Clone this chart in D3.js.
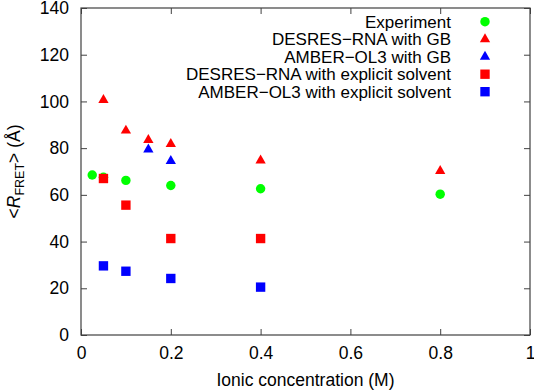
<!DOCTYPE html>
<html>
<head>
<meta charset="utf-8">
<script src="https://cdn.jsdelivr.net/npm/d3@7.9.0/dist/d3.min.js"></script>
<style>
  body { margin: 0; background: #fff; }
  text { font-family: "Liberation Sans", Arial, sans-serif; fill: #000; }
</style>
</head>
<body>
<div id="chart"></div>
<script>
// ─── DATA ────────────────────────────────────────────────────────────────────
const experimentX = [0.025, 0.05, 0.1, 0.2, 0.4, 0.8];
const experimentY = [68.5, 67.5, 66.2, 64.0, 62.6, 60.3];

const desresGbX = [0.05, 0.1, 0.15, 0.2, 0.4, 0.8];
const desresGbY = [100.6, 87.5, 83.5, 81.8, 74.7, 70.2];

const amberGbX = [0.15, 0.2];
const amberGbY = [79.4, 74.5];

const desresExplX = [0.05, 0.1, 0.2, 0.4];
const desresExplY = [67.0, 55.6, 41.3, 41.3];

const amberExplX = [0.05, 0.1, 0.2, 0.4];
const amberExplY = [29.6, 27.3, 24.2, 20.5];

const xTicks = [0, 0.2, 0.4, 0.6, 0.8, 1];
const yTicks = [0, 20, 40, 60, 80, 100, 120, 140];

const series = [
  { name: 'Experiment',                         xs: experimentX,  ys: experimentY,  shape: 'circle',   color: '#00ff00' },
  { name: 'DESRES\u2212RNA with GB',             xs: desresGbX,    ys: desresGbY,    shape: 'triangle', color: '#ff0000' },
  { name: 'AMBER\u2212OL3 with GB',              xs: amberGbX,     ys: amberGbY,     shape: 'triangle', color: '#0000ff' },
  { name: 'DESRES\u2212RNA with explicit solvent', xs: desresExplX, ys: desresExplY,  shape: 'square',   color: '#ff0000' },
  { name: 'AMBER\u2212OL3 with explicit solvent',  xs: amberExplX,  ys: amberExplY,   shape: 'square',   color: '#0000ff' }
];

// ─── SVG ─────────────────────────────────────────────────────────────────────
const W = 534, H = 390;
const margin = { top: 8, right: 4, bottom: 55, left: 81 };
const width  = W - margin.left - margin.right;
const height = H - margin.top - margin.bottom;

const svg = d3.select('#chart').append('svg')
  .attr('width', W).attr('height', H);

const g = svg.append('g')
  .attr('transform', `translate(${margin.left},${margin.top})`);

const x = d3.scaleLinear().domain([0, 1]).range([0, width]);
const y = d3.scaleLinear().domain([0, 140]).range([height, 0]);

const axisColor = '#404040';
const fontSize = 17.5;

// inward ticks on all four sides (gnuplot mirror style)
function styleAxis(sel) {
  sel.select('.domain').remove();
  sel.selectAll('.tick line').attr('stroke', axisColor);
  sel.selectAll('.tick text')
    .style('font-size', fontSize + 'px')
    .style('font-family', '"Liberation Sans", Arial, sans-serif')
    .attr('fill', '#000');
}

g.append('g')
    .attr('transform', `translate(0,${height})`)
    .call(d3.axisBottom(x).tickValues(xTicks).tickFormat(d3.format('')).tickSizeInner(-6).tickPadding(12))
    .call(styleAxis);

g.append('g')
    .call(d3.axisTop(x).tickValues(xTicks).tickFormat('').tickSizeInner(-6))
    .call(styleAxis);

g.append('g')
    .call(d3.axisLeft(y).tickValues(yTicks).tickFormat(d3.format('')).tickSizeInner(-6).tickPadding(12))
    .call(styleAxis);

g.append('g')
    .attr('transform', `translate(${width},0)`)
    .call(d3.axisRight(y).tickValues(yTicks).tickFormat('').tickSizeInner(-6))
    .call(styleAxis);

// frame
g.append('rect')
  .attr('width', width).attr('height', height)
  .attr('fill', 'none')
  .attr('stroke', axisColor)
  .attr('stroke-width', 1.2);

// axis titles
svg.append('text')
  .attr('x', margin.left + width / 2)
  .attr('y', 386)
  .attr('text-anchor', 'middle')
  .style('font-size', fontSize + 'px')
  .text('Ionic concentration (M)');

const yTitle = svg.append('text')
  .attr('transform', `translate(20,${margin.top + height / 2}) rotate(-90)`)
  .attr('text-anchor', 'middle')
  .style('font-size', fontSize + 'px');
yTitle.append('tspan').text('<');
yTitle.append('tspan').style('font-style', 'italic').text('R');
yTitle.append('tspan').attr('dy', 4).style('font-size', '12.5px').text('FRET');
yTitle.append('tspan').attr('dy', -4).text('> (\u00c5)');

// ─── MARKERS ─────────────────────────────────────────────────────────────────
const symbolFor = {
  circle:   d3.symbol().type(d3.symbolCircle).size(70),
  triangle: d3.symbol().type(d3.symbolTriangle).size(46),
  square:   d3.symbol().type(d3.symbolSquare).size(88)
};

series.forEach(s => {
  const pts = s.xs.map((v, i) => ({ x: v, y: s.ys[i] }));
  g.append('g').selectAll('path')
    .data(pts)
    .enter().append('path')
      .attr('transform', d => `translate(${x(d.x)},${y(d.y)})`)
      .attr('d', symbolFor[s.shape]())
      .attr('fill', s.color);
});

// ─── LEGEND ──────────────────────────────────────────────────────────────────
const legend = svg.append('g');
series.forEach((s, i) => {
  const ly = 21.7 + i * 17.5;
  legend.append('text')
    .attr('x', 451).attr('y', ly)
    .attr('dy', '0.35em')
    .attr('text-anchor', 'end')
    .style('font-size', '17px')
    .text(s.name);
  legend.append('path')
    .attr('transform', `translate(485,${ly})`)
    .attr('d', symbolFor[s.shape]())
    .attr('fill', s.color);
});
</script>
</body>
</html>
